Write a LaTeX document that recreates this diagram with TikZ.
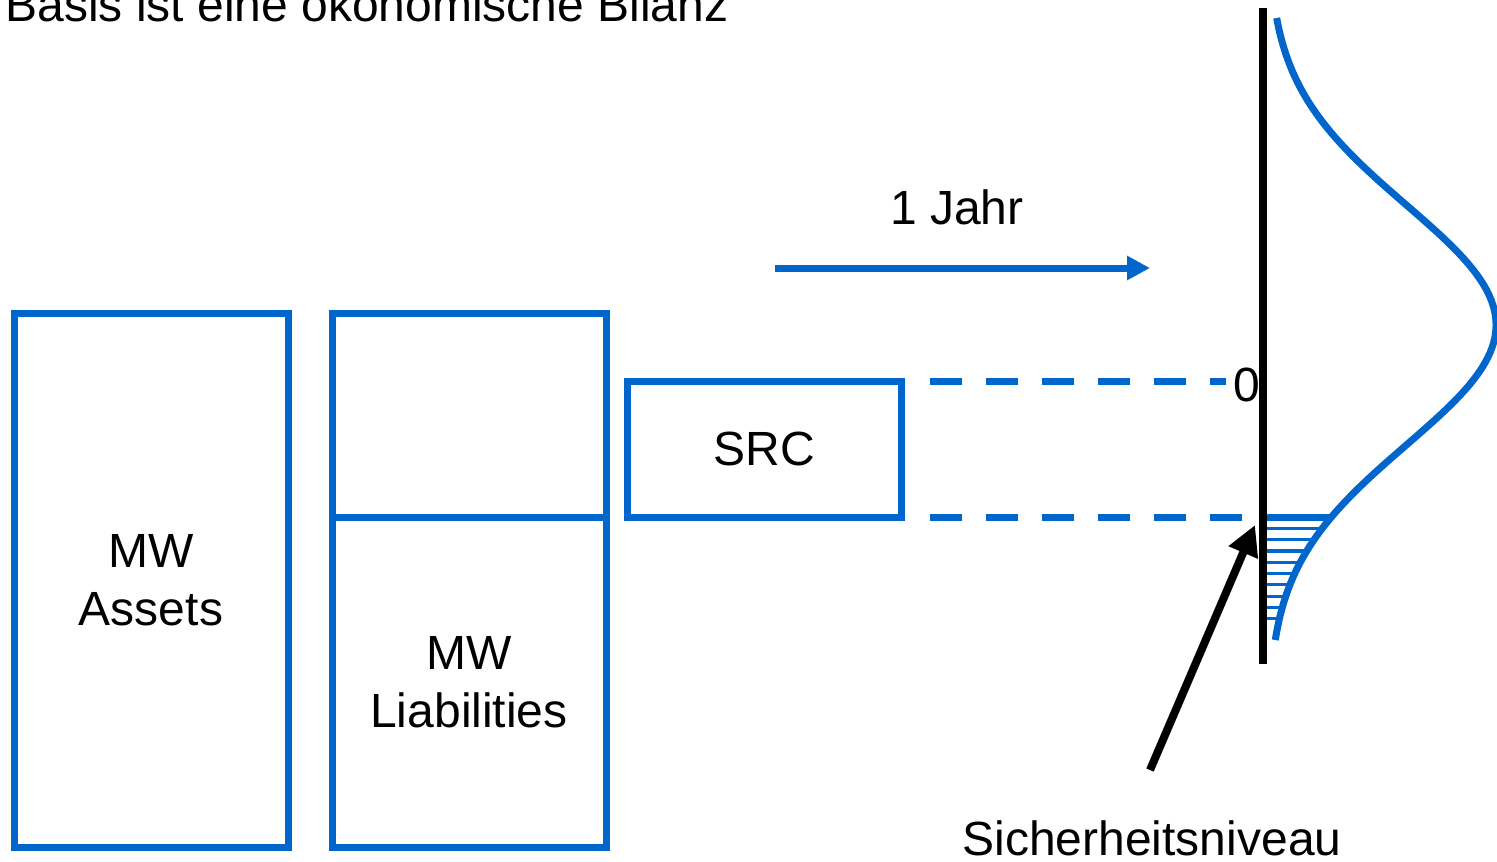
\documentclass[tikz,border=0pt]{standalone}
\usepackage{fontspec}
\setmainfont{Liberation Sans}
\usetikzlibrary{arrows.meta}
\definecolor{ablue}{RGB}{0,102,204}
% density profile of the one-year outcome, x as a function of y
\def\bell#1{1268+228*exp(-((#1-325)/120)*((#1-325)/120)/2)}
\begin{document}
\begin{tikzpicture}[x=0.5pt,y=-0.5pt,
  lbl/.style={font=\fontsize{24}{29}\selectfont, align=center, inner sep=0pt},
  box/.style={draw=ablue, line width=3.5pt, inner sep=0pt, outer sep=0pt,
              font=\fontsize{24}{29}\selectfont, align=center},
  dashline/.style={draw=ablue, line width=3.5pt, dash pattern=on 16pt off 12pt},
  hatch/.style={draw=ablue, line width=1.6pt},
  curve/.style={draw=ablue, line width=3.5pt},
  axis/.style={draw=black, line width=4pt},
  pointer/.style={draw=black, line width=4pt, -{Triangle[length=15pt,width=15pt]}},
  timearrow/.style={draw=ablue, line width=3.5pt, -{Triangle[length=11.5pt,width=11.5pt]}}]
\useasboundingbox (0,0) rectangle (1497,861);

% title
\node[lbl, anchor=base west] (title) at (5,22) {Basis ist eine ökonomische Bilanz};

% balance sheet
\node[box, minimum width=137pt, minimum height=267pt] (assets) at (151,580) {MW\\Assets};
\node[box, minimum width=137pt, minimum height=102pt] (own) at (469,415) {};
\node[box, minimum width=137pt, minimum height=165pt] (liab) at (469,682) {MW\\Liabilities};
\node[box, minimum width=137pt, minimum height=68pt] (src) at (764,449) {SRC};

% time horizon
\coordinate (t0) at (775,268);
\coordinate (t1) at (1150,268);
\draw[timearrow] (t0) -- (t1);
\node[lbl] (jahr) at (957,207) {1 Jahr};

% dashed guides from SRC to the axis
\coordinate (u0) at (930,381);
\coordinate (u1) at (1226,381);
\coordinate (l0) at (930,517);
\coordinate (l1) at (1242,517);
\draw[dashline] (u0) -- (u1);
\draw[dashline] (l0) -- (l1);

% shaded tail below the confidence level
\begin{scope}
  \clip (1262,517) -- plot[domain=517:645, samples=40, variable=\t] ({\bell{\t}},\t) -- (1262,645) -- cycle;
  \foreach \k in {1,...,9}
    \draw[hatch] (1262,{517+11.3*\k}) -- (1420,{517+11.3*\k});
\end{scope}
\draw[ablue, line width=3.5pt] (1262,517) -- ({\bell{517}},517);

% distribution curve
\draw[curve] plot[domain=18:640, samples=120, variable=\t] ({\bell{\t}},\t);

% vertical axis
\coordinate (axtop) at (1263,8);
\coordinate (axbot) at (1263,664);
\draw[axis] (axtop) -- (axbot);
\node[lbl] (zero) at (1247,385) {0};

% confidence level pointer
\coordinate (ptail) at (1150,770);
\coordinate (ptip) at (1255,525);
\draw[pointer] (ptail) -- (ptip);
\node[lbl, anchor=base] (level) at (1152,855) {Sicherheitsniveau};
\end{tikzpicture}
\end{document}
